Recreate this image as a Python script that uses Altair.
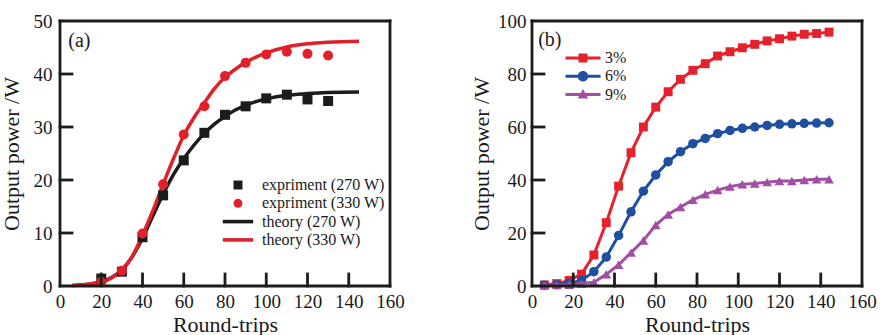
import altair as alt
import pandas as pd

# ---------------- Panel (a) data ----------------
rounds_exp = [20, 30, 40, 50, 60, 70, 80, 90, 100, 110, 120, 130]
exp_270 = [1.4, 2.7, 9.2, 17.1, 23.7, 28.9, 32.3, 33.9, 35.4, 36.1, 35.2, 34.9]
exp_330 = [0.8, 2.9, 9.9, 19.2, 28.6, 33.9, 39.6, 42.1, 43.7, 44.2, 43.8, 43.5]

rounds_theory = [6, 10, 15, 20, 25, 30, 35, 40, 45, 50, 55, 60, 65, 70, 75,
                 80, 85, 90, 95, 100, 110, 120, 130, 145]
theory_270 = [0.1, 0.2, 0.4, 0.8, 1.6, 3.0, 5.5, 9.0, 13.2, 17.3, 21.0, 24.0, 26.6,
              28.8, 30.6, 32.0, 33.2, 34.1, 34.8, 35.3, 36.0, 36.3, 36.5, 36.6]
theory_330 = [0.1, 0.2, 0.4, 0.7, 1.5, 3.0, 5.6, 9.6, 14.2, 19.2, 24.0, 28.4, 31.8,
              34.6, 37.3, 39.4, 40.9, 42.2, 43.2, 44.0, 45.1, 45.7, 46.0, 46.2]

legend_a = ["expriment (270 W)", "expriment (330 W)", "theory (270 W)", "theory (330 W)"]

xticks_labels = [0, 20, 40, 60, 80, 100, 120, 140, 160]
inner_xticks = [20, 40, 60, 80, 100, 120, 140]
yticks_a = [0, 10, 20, 30, 40, 50]
inner_yticks_a = [10, 20, 30, 40]

# ---------------- Panel (b) data ----------------
rounds_b = [6, 12, 18, 24, 30, 36, 42, 48, 54, 60, 66, 72, 78, 84, 90, 96,
            102, 108, 114, 120, 126, 132, 138, 144]
p3 = [0.4, 0.9, 2.1, 4.5, 11.7, 23.9, 37.7, 50.3, 60.0, 67.5, 73.3, 78.0,
      81.4, 83.9, 86.8, 88.4, 89.9, 91.2, 92.5, 93.3, 94.3, 95.0, 95.3, 95.8]
p6 = [0.3, 0.5, 1.0, 2.1, 5.4, 10.9, 19.1, 28.0, 35.8, 41.9, 46.9, 50.7,
      53.7, 55.7, 57.5, 58.7, 59.5, 60.0, 60.6, 61.0, 61.2, 61.4, 61.5, 61.6]
p9 = [0.3, 0.4, 0.5, 0.9, 1.4, 4.4, 8.0, 12.6, 17.2, 23.0, 27.0, 29.8,
      32.5, 34.6, 36.2, 37.5, 38.4, 38.7, 39.2, 39.6, 39.6, 40.0, 40.3, 40.3]
series_b = ["3%", "6%", "9%"]
yticks_b = [0, 20, 40, 60, 80, 100]
inner_yticks_b = [20, 40, 60, 80]

# ---------------- styles ----------------
FONT = "Liberation Serif"
RED_A = "#e2202a"
BLACK = "#1c1c1c"
RED_B = "#e5222b"
BLUE_B = "#1f4f9f"
PURPLE_B = "#a24ea5"
TXT = "#1a1a1a"
W, H = 330, 265
XMAX = 160
TICK_PX = 12
FW = 2.8

LINE_PATH = "M-3.4,-0.4H3.4V0.4H-3.4Z"
SQ_LINE = "M-3.5,-0.3H3.5V0.3H-3.5Z M-0.9,-0.9H0.9V0.9H-0.9Z"
CI_LINE = "M-3.5,-0.3H3.5V0.3H-3.5Z M-1.05,0A1.05,1.05 0 1,1 1.05,0A1.05,1.05 0 1,1 -1.05,0Z"
TR_LINE = "M-3.5,-0.3H3.5V0.3H-3.5Z M0,-1.1L1.05,0.8L-1.05,0.8Z"

xs = alt.Scale(domain=[0, XMAX], nice=False, zero=False)
ys_a = alt.Scale(domain=[0, 50], nice=False)
ys_b = alt.Scale(domain=[0, 100], nice=False)

common_axis = dict(ticks=False, domain=False, grid=False, labelOverlap=False,
                   labelFlush=False, labelFont=FONT, labelFontSize=19,
                   labelColor=TXT, titleFont=FONT, titleFontSize=22,
                   titleFontWeight="normal", titleColor=TXT)
x_axis = alt.Axis(values=xticks_labels, labelPadding=6, titlePadding=3, **common_axis)
ya_axis = alt.Axis(values=yticks_a, labelPadding=8, titlePadding=10, **common_axis)
yb_axis = alt.Axis(values=yticks_b, labelPadding=6, titlePadding=4, **common_axis)

XT = "Round-trips"
YT = "Output power /W"


def X(field="x:Q"):
    return alt.X(field, scale=xs, axis=x_axis, title=XT)


def frame_segments(xvals, yvals, ymax):
    """Two-point segments (frame edges and inward ticks) derived from the axis ticks."""
    ylen = TICK_PX / H * ymax
    xlen = TICK_PX / W * XMAX
    sx, sy, sid = [], [], []
    k = 0
    for (x0, y0, x1, y1) in [(0, 0, XMAX, 0), (0, ymax, XMAX, ymax),
                             (0, 0, 0, ymax), (XMAX, 0, XMAX, ymax)]:
        sx += [x0, x1]; sy += [y0, y1]; sid += [k, k]; k += 1
    for t in xvals:
        sx += [t, t]; sy += [0, ylen]; sid += [k, k]; k += 1
    for t in yvals:
        sx += [0, xlen]; sy += [t, t]; sid += [k, k]; k += 1
    return pd.DataFrame({"x": sx, "y": sy, "seg": sid})


def frame_layer(xvals, yvals, ys, yaxis, ymax):
    return alt.Chart(frame_segments(xvals, yvals, ymax)).mark_line(
        color=BLACK, strokeWidth=FW, strokeCap="square"
    ).encode(x=X(), y=alt.Y("y:Q", scale=ys, axis=yaxis, title=YT),
             detail="seg:N")


# ---------------- Panel (a) ----------------
df_exp = pd.DataFrame({
    "x": rounds_exp + rounds_exp,
    "y": exp_270 + exp_330,
    "series": [legend_a[0]] * len(rounds_exp) + [legend_a[1]] * len(rounds_exp),
})
df_t270 = pd.DataFrame({"x": rounds_theory, "y": theory_270})
df_t330 = pd.DataFrame({"x": rounds_theory, "y": theory_330})

Ya = alt.Y("y:Q", scale=ys_a, axis=ya_axis, title=YT)

leg_a = alt.Legend(orient="none", legendX=170, legendY=156, title=None,
                   symbolSize=80, labelFontSize=16, labelFont=FONT,
                   labelOffset=16, rowPadding=2.3, padding=0, labelColor=TXT,
                   symbolStrokeWidth=0)

line270 = alt.Chart(df_t270).mark_line(color=BLACK, strokeWidth=3.5,
                                       interpolate="monotone").encode(x=X(), y=Ya)
line330 = alt.Chart(df_t330).mark_line(color=RED_A, strokeWidth=3.5,
                                       interpolate="monotone").encode(x=X(), y=Ya)
pts_a = alt.Chart(df_exp).mark_point(filled=True, size=100, opacity=1).encode(
    x=X(), y=Ya,
    color=alt.Color("series:N", scale=alt.Scale(domain=legend_a,
                    range=[BLACK, RED_A, BLACK, RED_A]), legend=leg_a),
    shape=alt.Shape("series:N", scale=alt.Scale(domain=legend_a,
                    range=["square", "circle", LINE_PATH, LINE_PATH]), legend=leg_a),
)
lab_a = alt.Chart(pd.DataFrame({"t": ["(a)"], "x": [4], "y": [46.3]})).mark_text(
    font=FONT, fontSize=20, align="left", baseline="middle", color=TXT
).encode(x=X(), y=Ya, text="t:N")

chart_a = alt.layer(
    line270, line330, pts_a, lab_a,
    frame_layer(inner_xticks, inner_yticks_a, ys_a, ya_axis, 50),
).properties(width=W, height=H)

# ---------------- Panel (b) ----------------
df_b = pd.DataFrame({
    "x": rounds_b * 3,
    "y": p3 + p6 + p9,
    "series": [series_b[0]] * len(rounds_b) + [series_b[1]] * len(rounds_b)
              + [series_b[2]] * len(rounds_b),
})
Yb = alt.Y("y:Q", scale=ys_b, axis=yb_axis, title=YT)
colors_b = [RED_B, BLUE_B, PURPLE_B]
shapes_b = ["square", "circle", "triangle-up"]
sizes_b = [80, 90, 95]

layers_b = []
for s, c, sh, sz in zip(series_b, colors_b, shapes_b, sizes_b):
    base = alt.Chart(df_b).transform_filter(alt.datum.series == s)
    layers_b.append(base.mark_line(color=c, strokeWidth=3).encode(x=X(), y=Yb))
    layers_b.append(base.mark_point(filled=True, shape=sh, size=sz, color=c,
                                    opacity=1).encode(x=X(), y=Yb))

leg_b = alt.Legend(orient="none", legendX=43, legendY=29, title=None,
                   symbolSize=100, labelFontSize=16, labelFont=FONT,
                   labelOffset=14, rowPadding=2.3, padding=0, labelColor=TXT,
                   symbolStrokeWidth=0)
legend_layer_b = alt.Chart(df_b).transform_filter("datum.y < -1000").mark_point(
    filled=True, opacity=1).encode(
    x=X(), y=Yb,
    color=alt.Color("series:N", scale=alt.Scale(domain=series_b, range=colors_b),
                    legend=leg_b),
    shape=alt.Shape("series:N", scale=alt.Scale(domain=series_b,
                    range=[SQ_LINE, CI_LINE, TR_LINE]), legend=leg_b),
)
lab_b = alt.Chart(pd.DataFrame({"t": ["(b)"], "x": [3], "y": [92.8]})).mark_text(
    font=FONT, fontSize=20, align="left", baseline="middle", color=TXT
).encode(x=X(), y=Yb, text="t:N")

chart_b = alt.layer(
    *layers_b, legend_layer_b, lab_b,
    frame_layer(inner_xticks, inner_yticks_b, ys_b, yb_axis, 100),
).properties(width=W, height=H)

chart = alt.hconcat(chart_a, chart_b, spacing=65).resolve_scale(
    color="independent", shape="independent"
).properties(
    padding={"left": 0, "top": 12, "right": 0, "bottom": 0},
    background="white",
).configure_view(
    strokeWidth=0
)

chart.save("out.html", embed_options={"renderer": "svg", "actions": False})
